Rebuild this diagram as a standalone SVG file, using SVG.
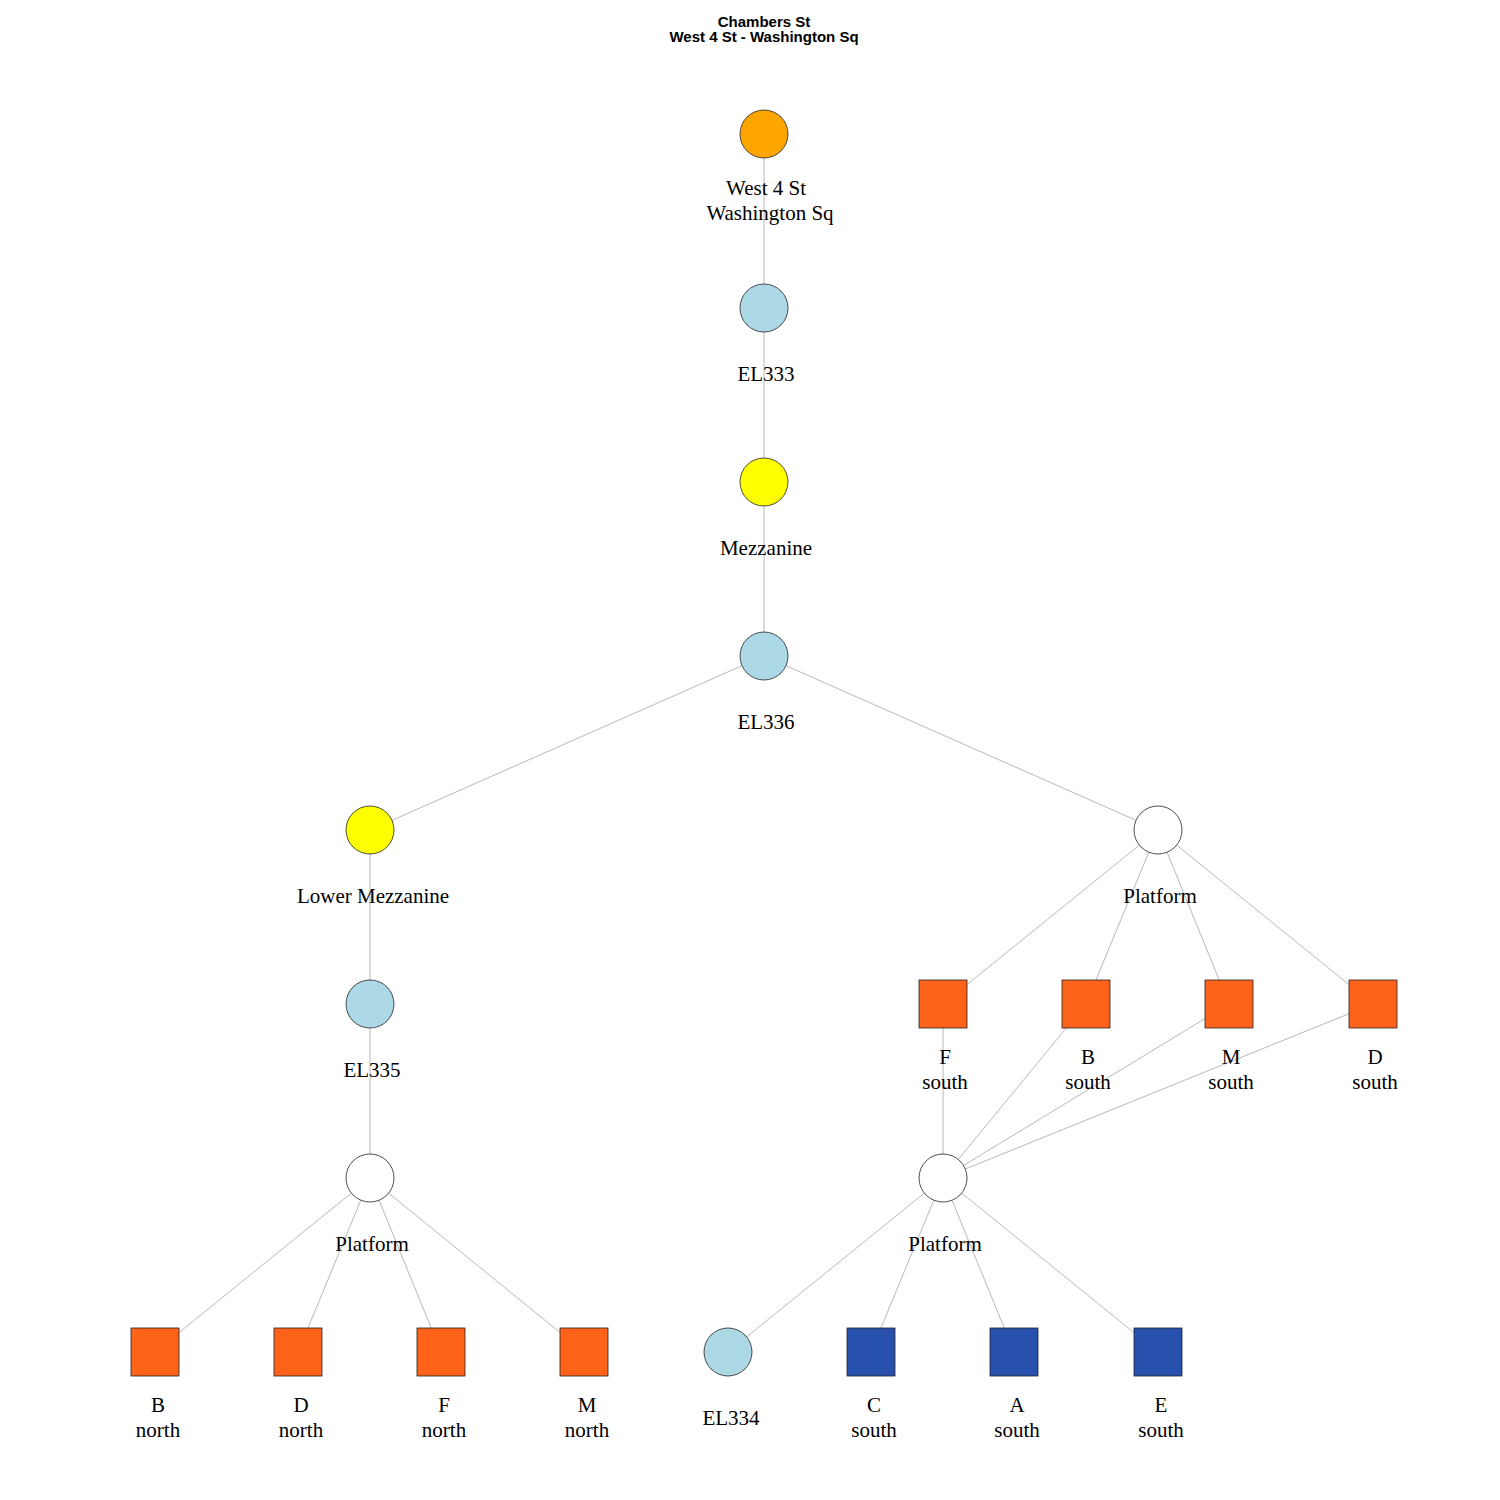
<svg xmlns="http://www.w3.org/2000/svg" width="1500" height="1500" viewBox="0 0 1500 1500">
<style>
.e{stroke:#b8b8b8;stroke-width:1;fill:none}
.n{stroke:#222;stroke-width:0.8}
.l{font-family:"Liberation Serif",serif;font-size:21px;fill:#000;text-anchor:middle}
.t{font-family:"Liberation Sans",Arial,sans-serif;font-size:15px;font-weight:bold;fill:#000;text-anchor:middle}
.or{fill:#FFA500}.lb{fill:#ADD8E6}.ye{fill:#FFFF00}.wh{fill:#fff}.rd{fill:#FF6319}.bl{fill:#2850AD}
</style>
<rect width="1500" height="1500" fill="#fff"/>
<text class="t" x="764" y="27">Chambers St</text>
<text class="t" x="764" y="42">West 4 St - Washington Sq</text>
<g id="edges">
<line class="e" x1="764" y1="134" x2="764" y2="308"/>
<line class="e" x1="764" y1="308" x2="764" y2="482"/>
<line class="e" x1="764" y1="482" x2="764" y2="656"/>
<line class="e" x1="764" y1="656" x2="370" y2="830"/>
<line class="e" x1="764" y1="656" x2="1158" y2="830"/>
<line class="e" x1="370" y1="830" x2="370" y2="1004"/>
<line class="e" x1="370" y1="1004" x2="370" y2="1178"/>
<line class="e" x1="370" y1="1178" x2="155" y2="1352"/>
<line class="e" x1="370" y1="1178" x2="298" y2="1352"/>
<line class="e" x1="370" y1="1178" x2="441" y2="1352"/>
<line class="e" x1="370" y1="1178" x2="584" y2="1352"/>
<line class="e" x1="1158" y1="830" x2="943" y2="1004"/>
<line class="e" x1="1158" y1="830" x2="1086" y2="1004"/>
<line class="e" x1="1158" y1="830" x2="1229" y2="1004"/>
<line class="e" x1="1158" y1="830" x2="1373" y2="1004"/>
<line class="e" x1="943" y1="1004" x2="943" y2="1178"/>
<line class="e" x1="1086" y1="1004" x2="943" y2="1178"/>
<line class="e" x1="1229" y1="1004" x2="943" y2="1178"/>
<line class="e" x1="1373" y1="1004" x2="943" y2="1178"/>
<line class="e" x1="943" y1="1178" x2="728" y2="1352"/>
<line class="e" x1="943" y1="1178" x2="871" y2="1352"/>
<line class="e" x1="943" y1="1178" x2="1014" y2="1352"/>
<line class="e" x1="943" y1="1178" x2="1158" y2="1352"/>
</g>
<g id="n_station"><circle class="n or" cx="764" cy="134" r="24"/><text class="l" x="766" y="195">West 4 St</text><text class="l" x="770" y="220">Washington Sq</text></g>
<g id="n_el333"><circle class="n lb" cx="764" cy="308" r="24"/><text class="l" x="766" y="381">EL333</text></g>
<g id="n_mezz"><circle class="n ye" cx="764" cy="482" r="24"/><text class="l" x="766" y="555">Mezzanine</text></g>
<g id="n_el336"><circle class="n lb" cx="764" cy="656" r="24"/><text class="l" x="766" y="729">EL336</text></g>
<g id="n_lowmezz"><circle class="n ye" cx="370" cy="830" r="24"/><text class="l" x="373" y="903">Lower Mezzanine</text></g>
<g id="n_plat_r"><circle class="n wh" cx="1158" cy="830" r="24"/><text class="l" x="1160" y="903">Platform</text></g>
<g id="n_el335"><circle class="n lb" cx="370" cy="1004" r="24"/><text class="l" x="372" y="1077">EL335</text></g>
<g id="n_fs"><rect class="n rd" x="919" y="980" width="48" height="48"/><text class="l" x="945" y="1064">F</text><text class="l" x="945" y="1089">south</text></g>
<g id="n_bs"><rect class="n rd" x="1062" y="980" width="48" height="48"/><text class="l" x="1088" y="1064">B</text><text class="l" x="1088" y="1089">south</text></g>
<g id="n_ms"><rect class="n rd" x="1205" y="980" width="48" height="48"/><text class="l" x="1231" y="1064">M</text><text class="l" x="1231" y="1089">south</text></g>
<g id="n_ds"><rect class="n rd" x="1349" y="980" width="48" height="48"/><text class="l" x="1375" y="1064">D</text><text class="l" x="1375" y="1089">south</text></g>
<g id="n_plat_l"><circle class="n wh" cx="370" cy="1178" r="24"/><text class="l" x="372" y="1251">Platform</text></g>
<g id="n_plat_b"><circle class="n wh" cx="943" cy="1178" r="24"/><text class="l" x="945" y="1251">Platform</text></g>
<g id="n_bn"><rect class="n rd" x="131" y="1328" width="48" height="48"/><text class="l" x="158" y="1412">B</text><text class="l" x="158" y="1437">north</text></g>
<g id="n_dn"><rect class="n rd" x="274" y="1328" width="48" height="48"/><text class="l" x="301" y="1412">D</text><text class="l" x="301" y="1437">north</text></g>
<g id="n_fn"><rect class="n rd" x="417" y="1328" width="48" height="48"/><text class="l" x="444" y="1412">F</text><text class="l" x="444" y="1437">north</text></g>
<g id="n_mn"><rect class="n rd" x="560" y="1328" width="48" height="48"/><text class="l" x="587" y="1412">M</text><text class="l" x="587" y="1437">north</text></g>
<g id="n_el334"><circle class="n lb" cx="728" cy="1352" r="24"/><text class="l" x="731" y="1425">EL334</text></g>
<g id="n_cs"><rect class="n bl" x="847" y="1328" width="48" height="48"/><text class="l" x="874" y="1412">C</text><text class="l" x="874" y="1437">south</text></g>
<g id="n_as"><rect class="n bl" x="990" y="1328" width="48" height="48"/><text class="l" x="1017" y="1412">A</text><text class="l" x="1017" y="1437">south</text></g>
<g id="n_es"><rect class="n bl" x="1134" y="1328" width="48" height="48"/><text class="l" x="1161" y="1412">E</text><text class="l" x="1161" y="1437">south</text></g>
</svg>
